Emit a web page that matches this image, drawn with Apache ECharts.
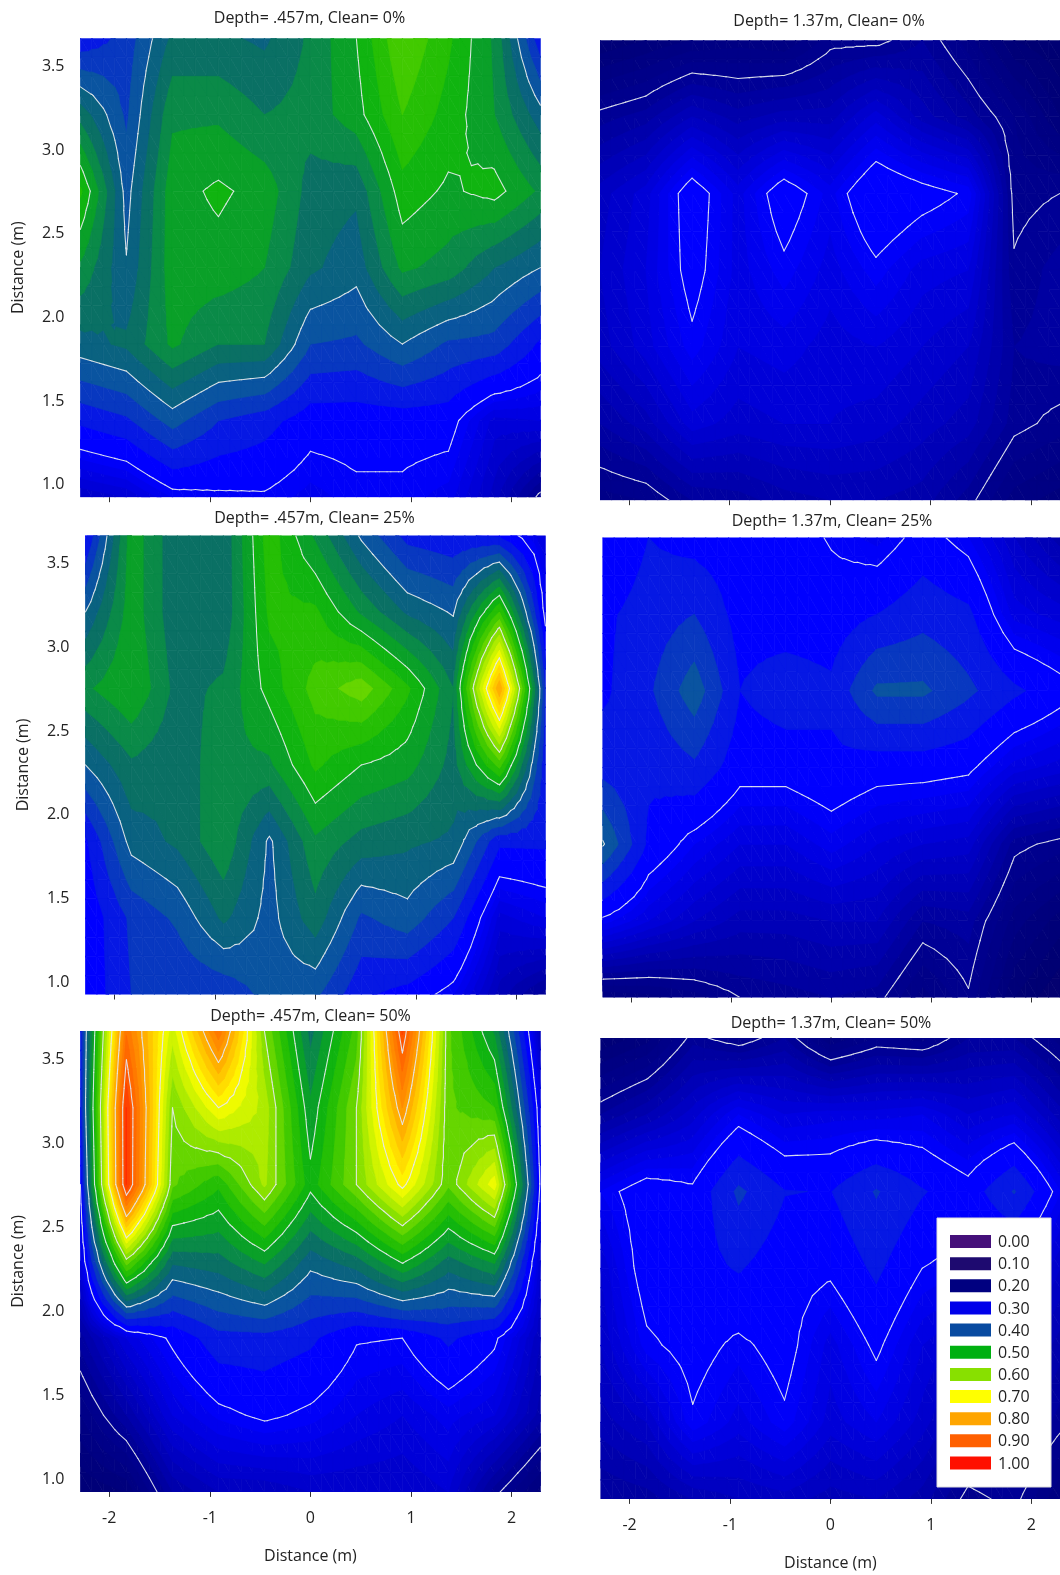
<!DOCTYPE html>
<html><head><meta charset="utf-8">
<style>html,body{margin:0;padding:0;background:#fff}#c{width:1060px;height:1575px}</style>
<script src="https://cdn.jsdelivr.net/npm/echarts@6/dist/echarts.min.js"></script>
</head><body><div id="c"></div>
<script>
// measurement positions (m); each panel lists 11 columns, each top-to-bottom over yValues
const xValues = [-2.286,-1.829,-1.371,-0.914,-0.457,0,0.457,0.914,1.371,1.829,2.286];
const yValues = [3.657,3.2,2.743,2.286,1.829,1.371,0.914];
const xTicks = [-2,-1,0,1,2];
const yTicks = [1,1.5,2,2.5,3,3.5];
const shallow0 = [
 [.33,.44,.53,.47,.415,.33,.25],[.36,.37,.39,.402,.43,.345,.26],[.43,.47,.49,.49,.48,.385,.29],
 [.43,.47,.505,.49,.45,.35,.295],[.42,.45,.49,.475,.45,.335,.297],[.455,.46,.44,.43,.375,.31,.285],
 [.50,.49,.43,.41,.37,.31,.295],[.575,.55,.515,.48,.40,.31,.295],[.53,.515,.495,.465,.37,.31,.285],
 [.47,.475,.51,.425,.365,.265,.245],[.33,.41,.47,.40,.32,.27,.195]];
const deep0 = [
 [.15,.205,.245,.25,.245,.22,.185],[.16,.215,.265,.27,.265,.235,.19],[.17,.24,.315,.31,.295,.265,.21],
 [.175,.225,.275,.275,.27,.255,.215],[.17,.235,.315,.295,.275,.26,.225],[.195,.235,.285,.275,.265,.26,.23],
 [.195,.265,.325,.295,.27,.255,.23],[.21,.235,.31,.275,.26,.245,.225],[.185,.215,.297,.27,.25,.235,.205],
 [.15,.19,.195,.202,.21,.205,.175],[.14,.16,.20,.215,.215,.195,.165]];
const shallow25 = [
 [.32,.40,.47,.40,.32,.305,.305],[.49,.49,.50,.445,.41,.355,.35],[.43,.43,.44,.43,.43,.38,.35],
 [.43,.43,.455,.47,.47,.43,.355],[.54,.53,.51,.47,.395,.39,.385],[.47,.53,.56,.53,.47,.44,.38],
 [.395,.47,.59,.50,.44,.37,.33],[.34,.42,.53,.485,.43,.39,.315],[.33,.397,.45,.44,.42,.35,.29],
 [.32,.55,.80,.56,.33,.265,.235],[.27,.29,.345,.33,.33,.28,.205]];
const deep25 = [
 [.30,.32,.32,.34,.403,.295,.17],[.325,.335,.345,.33,.32,.27,.175],[.315,.35,.39,.345,.29,.25,.185],
 [.31,.315,.325,.31,.27,.235,.20],[.31,.31,.34,.31,.27,.235,.205],[.298,.31,.33,.32,.285,.24,.21],
 [.285,.325,.38,.31,.27,.24,.205],[.31,.34,.38,.31,.26,.21,.175],[.29,.33,.355,.305,.255,.215,.198],
 [.25,.275,.33,.275,.205,.175,.15],[.225,.265,.31,.265,.195,.155,.13]];
const shallow50 = [
 [.33,.33,.30,.27,.215,.18,.15],[.87,.95,.95,.59,.27,.22,.16],[.66,.60,.58,.43,.305,.27,.22],
 [.87,.70,.53,.44,.34,.293,.24],[.60,.64,.63,.48,.34,.305,.24],[.44,.48,.51,.41,.33,.295,.25],
 [.56,.60,.60,.44,.302,.28,.25],[.93,.825,.71,.505,.30,.27,.25],[.58,.58,.58,.44,.33,.285,.26],
 [.47,.55,.69,.48,.305,.27,.205],[.24,.28,.295,.26,.24,.225,.165]];
const deep50 = [
 [.15,.21,.29,.26,.25,.235,.21],[.165,.23,.315,.315,.295,.25,.215],[.205,.255,.305,.315,.31,.297,.23],
 [.19,.29,.355,.327,.295,.275,.24],[.21,.27,.326,.31,.31,.296,.245],[.17,.275,.324,.305,.275,.265,.235],
 [.19,.275,.352,.33,.305,.28,.24],[.185,.28,.327,.30,.27,.255,.225],[.21,.26,.31,.29,.255,.225,.195],
 [.21,.27,.352,.285,.25,.23,.205],[.185,.235,.29,.25,.225,.205,.17]];
const contourLevels = [.2,.3,.4,.5,.6,.7,.8,.9];
const legendValues = [0,.1,.2,.3,.4,.5,.6,.7,.8,.9,1];
const legendColors = ['#45107a','#1e0a70','#000080','#0000ea','#084aa0','#00b010','#88e000','#ffff00','#ffa500','#ff6000','#ff1000'];
const rampValues = [0,.1,.14,.2,.3,.325,.3375,.3625,.3875,.4125,.4375,.4625,.4875,.5125,.55,.6,.65,.7,.8,.9,1];
const rampColors = ['#45107a','#1e0a70','#000070','#000090','#0000ff','#0000ff','#0618e4','#0838c0','#0a54a0','#0a6280','#0a7064','#0a8a48','#0aa028','#10b410','#30c400','#78dc00','#c0f000','#ffff00','#ffa500','#ff6000','#ff1000'];

const panels = [
 {title:'Depth= .457m, Clean= 0%', values:shallow0, rect:[80.4,38.2,460,459], tx:309.5, ty:18, yLabels:true, xLabels:false},
 {title:'Depth= 1.37m, Clean= 0%', values:deep0, rect:[600,40.2,461,460], tx:829, ty:21, yLabels:false, xLabels:false},
 {title:'Depth= .457m, Clean= 25%', values:shallow25, rect:[85.4,535.5,460,459], tx:314.5, ty:518, yLabels:true, xLabels:false},
 {title:'Depth= 1.37m, Clean= 25%', values:deep25, rect:[602.8,537.5,460,460], tx:832, ty:521, yLabels:false, xLabels:false},
 {title:'Depth= .457m, Clean= 50%', values:shallow50, rect:[80.4,1030.9,460,461], tx:310.5, ty:1016, yLabels:true, xLabels:true},
 {title:'Depth= 1.37m, Clean= 50%', values:deep50, rect:[600.8,1037.9,460,461], tx:831, ty:1023, yLabels:false, xLabels:true}
];
const FONT = '"Open Sans", sans-serif', INK = '#222', FS = 16, SUB = 4;

function hex(c){return [1,3,5].map(i=>parseInt(c.substr(i,2),16));}
function colorAt(v){
  const n = rampValues.length;
  if(v<=rampValues[0]) return rampColors[0];
  for(let i=1;i<n;i++){ if(v<=rampValues[i]){
    const t=(v-rampValues[i-1])/(rampValues[i]-rampValues[i-1]);
    const a=hex(rampColors[i-1]),b=hex(rampColors[i]);
    return 'rgb('+a.map((x,k)=>Math.round(x+(b[k]-x)*t)).join(',')+')';
  }}
  return rampColors[n-1];
}
const breaks=[]; for(let b=0;b<.3;b+=.01) breaks.push(+b.toFixed(3)); for(let b=.3;b<1.05;b+=.025) breaks.push(+b.toFixed(3));

function clipAbove(poly,limit){
  const out=[];
  for(let i=0;i<poly.length;i++){
    const p=poly[i],q=poly[(i+1)%poly.length];
    const pin=p[2]>=limit, qin=q[2]>=limit;
    if(pin) out.push(p);
    if(pin!==qin){const t=(limit-p[2])/(q[2]-p[2]); out.push([p[0]+(q[0]-p[0])*t,p[1]+(q[1]-p[1])*t,limit]);}
  }
  return out;
}
function cellTriangles(params,api){
  const x0=api.value(0),y0=api.value(1),x1=api.value(2),y1=api.value(3);
  const a=api.value(4),b=api.value(5),c=api.value(6),d=api.value(7);
  const node=(i,j)=>{
    const s=i/SUB,t=j/SUB,p=api.coord([x0+(x1-x0)*s,y0+(y1-y0)*t]);
    return [p[0],p[1],(a*(1-s)+b*s)*(1-t)+(d*(1-s)+c*s)*t];
  };
  const tris=[];
  for(let i=0;i<SUB;i++) for(let j=0;j<SUB;j++){
    const A=node(i,j),B=node(i+1,j),C=node(i+1,j+1),D=node(i,j+1);
    tris.push([A,B,C],[A,C,D]);
  }
  return tris;
}
// painter's order: each band is drawn over the lower ones, so band edges stay clean
function renderFill(params,api){
  const children=[];
  cellTriangles(params,api).forEach(tri=>{
    const lo=Math.min(tri[0][2],tri[1][2],tri[2][2]),hi=Math.max(tri[0][2],tri[1][2],tri[2][2]);
    for(let i=0;i<breaks.length;i++){
      const a=breaks[i],b=i+1<breaks.length?breaks[i+1]:2;
      if(b<=lo||a>hi) continue;
      const poly=clipAbove(tri,a); if(poly.length<3) continue;
      const col=colorAt((a+b)/2);
      children.push({type:'polygon',silent:true,z2:i,shape:{points:poly.map(p=>[p[0],p[1]])},style:{fill:col,stroke:col,lineWidth:.7,lineJoin:'round'}});
    }
  });
  return {type:'group',children};
}
function renderLines(params,api){
  const children=[];
  cellTriangles(params,api).forEach(tri=>{
    contourLevels.forEach(L=>{
      const pts=[];
      for(let i=0;i<3;i++){
        const p=tri[i],q=tri[(i+1)%3];
        if((p[2]>=L)!==(q[2]>=L)){const t=(L-p[2])/(q[2]-p[2]); pts.push([p[0]+(q[0]-p[0])*t,p[1]+(q[1]-p[1])*t]);}
      }
      if(pts.length===2) children.push({type:'line',silent:true,shape:{x1:pts[0][0],y1:pts[0][1],x2:pts[1][0],y2:pts[1][1]},style:{stroke:'rgba(228,232,238,.92)',lineWidth:1.1,lineCap:'round'}});
    });
  });
  return {type:'group',children};
}
function cellData(values){
  const out=[];
  for(let i=0;i<xValues.length-1;i++) for(let j=0;j<yValues.length-1;j++){
    out.push([xValues[i],yValues[j],xValues[i+1],yValues[j+1],values[i][j],values[i+1][j],values[i+1][j+1],values[i][j+1]]);
  }
  return out;
}
const option={animation:false,backgroundColor:'#fff',grid:[],xAxis:[],yAxis:[],series:[],graphic:[]};
const gfx=[];
panels.forEach((p,k)=>{
  gfx.push({type:'text',z:60,x:p.tx,y:p.ty,silent:true,style:{text:p.title,fontFamily:FONT,fontSize:FS,fill:INK,textAlign:'center',verticalAlign:'middle'}});
  option.grid.push({left:p.rect[0],top:p.rect[1],width:p.rect[2],height:p.rect[3],containLabel:false});
  option.xAxis.push({type:'value',gridIndex:k,min:xValues[0],max:xValues[10],splitLine:{show:false},axisLine:{show:false},
    axisTick:{show:true,length:5,lineStyle:{color:'#333'},customValues:xTicks},
    axisLabel:{show:p.xLabels,customValues:xTicks,margin:19,fontFamily:FONT,fontSize:FS,color:INK},
    name:p.xLabels?'Distance (m)':'',nameLocation:'middle',nameGap:57,nameTextStyle:{fontFamily:FONT,fontSize:FS,color:INK}});
  option.yAxis.push({type:'value',gridIndex:k,min:yValues[6],max:yValues[0],splitLine:{show:false},
    axisLine:{show:k===5,lineStyle:{color:'#888',width:2}},
    axisTick:{show:true,length:5,lineStyle:{color:'#333'},customValues:yTicks},
    axisLabel:{show:p.yLabels,customValues:yTicks,margin:16,fontFamily:FONT,fontSize:FS,color:INK,
      formatter:v=>'{t|'+(+v).toFixed(1)+'}',rich:{t:{fontFamily:FONT,fontSize:FS,color:INK,padding:[4,0,0,0]}}},
    name:p.yLabels?'Distance (m)':'',nameLocation:'middle',nameGap:54,nameTextStyle:{fontFamily:FONT,fontSize:FS,color:INK}});
  const data=cellData(p.values);
  const enc={x:[0,2],y:[1,3]};
  option.series.push({type:'custom',xAxisIndex:k,yAxisIndex:k,coordinateSystem:'cartesian2d',clip:true,silent:true,z:2,renderItem:renderFill,encode:enc,data});
  option.series.push({type:'custom',xAxisIndex:k,yAxisIndex:k,coordinateSystem:'cartesian2d',clip:true,silent:true,z:3,renderItem:renderLines,encode:enc,data});
});
// legend box
gfx.push({type:'rect',z:50,silent:true,shape:{x:937,y:1218,width:114,height:269},style:{fill:'#fff',stroke:'#ddd',lineWidth:1}});
legendValues.forEach((v,i)=>{
  const y=1235+i*22.15;
  gfx.push({type:'rect',z:51,silent:true,shape:{x:950,y:y,width:41,height:13},style:{fill:legendColors[i]}});
  gfx.push({type:'text',z:51,silent:true,x:998,y:y+7.5,style:{text:v.toFixed(2),fontFamily:FONT,fontSize:FS,fill:INK,verticalAlign:'middle'}});
});
option.graphic=gfx;
echarts.init(document.getElementById('c'),null,{renderer:'canvas'}).setOption(option);
</script></body></html>
